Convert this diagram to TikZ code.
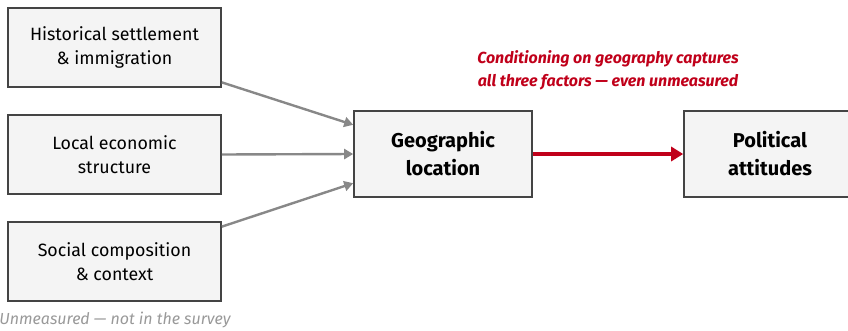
\documentclass[tikz,border=0pt]{standalone}
\usepackage{fontspec}
\setmainfont{Fira Sans}
\usetikzlibrary{arrows.meta}
\definecolor{boxfill}{HTML}{F4F4F4}
\definecolor{boxline}{HTML}{444444}
\definecolor{arrgray}{HTML}{888888}
\definecolor{accent}{HTML}{C0001A}
\definecolor{notegray}{HTML}{999999}
\tikzset{
  factor/.style={draw=boxline, fill=boxfill, line width=1.6pt, minimum width=213pt, minimum height=79pt, inner sep=0pt, align=center, font=\fontsize{17.8}{24}\selectfont},
  keybox/.style={draw=boxline, fill=boxfill, line width=1.6pt, minimum height=86pt, inner sep=0pt, align=center, font=\fontsize{20}{28}\selectfont\bfseries},
  grayarrow/.style={draw=arrgray, line width=2.4pt, -{Triangle[length=9pt,width=10pt]}},
  redarrow/.style={draw=accent, line width=4pt, -{Triangle[length=12pt,width=14pt]}},
}
\begin{document}
\begin{tikzpicture}[x=1pt,y=-1pt]
\useasboundingbox (0,0) rectangle (848,330);
\node[factor] (hist) at (114.5,47.5) {Historical settlement\\\& immigration};
\node[factor] (econ) at (114.5,154.5) {Local economic\\structure};
\node[factor] (soc) at (114.5,261.5) {Social composition\\\& context};
\node[keybox, minimum width=178pt] (geo) at (443,154) {Geographic\\location};
\node[keybox, minimum width=172pt] (pol) at (770,154) {Political\\attitudes};
\node[font=\fontsize{16}{18}\selectfont\itshape, text=notegray, inner sep=0pt] (note) at (115,320) {Unmeasured — not in the survey};
\node[font=\fontsize{16}{23}\selectfont\bfseries\itshape, text=accent, align=center, inner sep=0pt] (cond) at (608,70) {Conditioning on geography captures\\all three factors — even unmeasured};
\draw[grayarrow] (hist.-18) -- (geo.162);
\draw[grayarrow] (econ.east) -- (geo.west);
\draw[grayarrow] (soc.18) -- (geo.198);
\draw[redarrow] (geo.east) -- (pol.west);
\end{tikzpicture}
\end{document}
